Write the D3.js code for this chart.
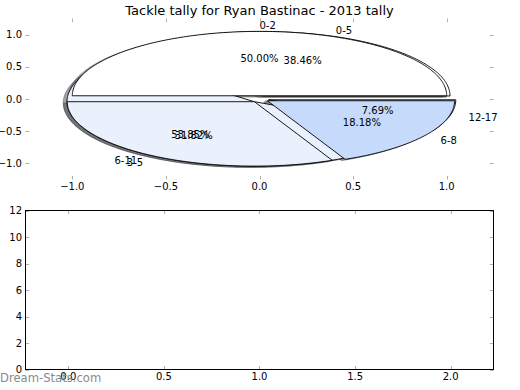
<!DOCTYPE html>
<html>
<head>
<meta charset="utf-8">
<script src="https://cdn.jsdelivr.net/npm/d3@7"></script>
<style>
    body { margin: 0; background: #fff; }
    text { font-family: "DejaVu Sans", sans-serif; }
</style>
</head>
<body>
<svg id="chart" width="520" height="390"></svg>
<script>
// Chart data
const titleText = 'Tackle tally for Ryan Bastinac - 2013 tally';
const outerLabels = ['0-5', '6-11', '12-17'];
const outerValues = [5, 7, 1];
const innerLabels = ['0-2', '3-5', '6-8'];
const innerValues = [11, 7, 4];
const sliceColors = ['#ffffff', '#eaf1fd', '#c6dafc'];
const explodeBy = 0.05;
const pieXTicks = [-1.0, -0.5, 0.0, 0.5, 1.0];
const pieYTicks = [-1.0, -0.5, 0.0, 0.5, 1.0];
const barXTicks = [0.0, 0.5, 1.0, 1.5, 2.0];
const barYTicks = [0, 2, 4, 6, 8, 10, 12];

let svg = d3.select('#chart');
let fmt1 = d3.format('.1f');
let tickColor = '#b0b0b0';
let tickLen = 3.6;

// ---------- top axes (pies) ----------
let x = d3.scaleLinear().domain([-1.25, 1.25]).range([25.5, 493.5]);
let y = d3.scaleLinear().domain([-1.25, 1.25]).range([179.5, 18.5]);

let line = d3.line().x(function(d) { return x(d[0]); }).y(function(d) { return y(d[1]); });

function wedgePath(cx, cy, a0, a1)
{
    let pts = [[cx, cy]];
    let n = Math.max(2, Math.ceil((a1 - a0) / (Math.PI / 180)));
    for (let i = 0; i <= n; ++i) {
        let t = a0 + (a1 - a0) * i / n;
        pts.push([cx + Math.cos(t), cy + Math.sin(t)]);
    }
    return line(pts) + 'Z';
}

function buildSlices(labels, values)
{
    let arcs = d3.pie().sort(null).startAngle(0).endAngle(2 * Math.PI)(values);
    let total = d3.sum(values);
    return arcs.map(function(a, i) {
        let tm = (a.startAngle + a.endAngle) / 2;
        return {
            label: labels[i],
            pct: d3.format('.2f')(values[i] / total * 100) + '%',
            a0: a.startAngle,
            a1: a.endAngle,
            tm: tm,
            cx: explodeBy * Math.cos(tm),
            cy: explodeBy * Math.sin(tm),
            color: sliceColors[i]
        };
    });
}

let pies = [buildSlices(outerLabels, outerValues), buildSlices(innerLabels, innerValues)];

let shadowLayer = svg.append('g');
let wedgeLayer = svg.append('g');
let textLayer = svg.append('g');

pies.forEach(function(slices) {
    // shadows sit under every wedge
    shadowLayer.selectAll(null)
        .data(slices)
        .enter().append('path')
        .attr('d', function(d) { return wedgePath(d.cx - 0.02, d.cy - 0.02, d.a0, d.a1); })
        .attr('fill', function(d) { let c = d3.rgb(d.color); return d3.rgb(c.r * 0.3, c.g * 0.3, c.b * 0.3); })
        .attr('stroke', function(d) { let c = d3.rgb(d.color); return d3.rgb(c.r * 0.3, c.g * 0.3, c.b * 0.3); })
        .attr('fill-opacity', 0.5)
        .attr('stroke-opacity', 0.5)
        .attr('stroke-width', 0.9);

    wedgeLayer.selectAll(null)
        .data(slices)
        .enter().append('path')
        .attr('d', function(d) { return wedgePath(d.cx, d.cy, d.a0, d.a1); })
        .attr('fill', function(d) { return d.color; })
        .attr('stroke', '#000')
        .attr('stroke-width', 0.9)
        .attr('stroke-linejoin', 'miter');

    textLayer.selectAll(null)
        .data(slices)
        .enter().append('text')
        .attr('x', function(d) { return x(d.cx + 1.1 * Math.cos(d.tm)); })
        .attr('y', function(d) { return y(d.cy + 1.1 * Math.sin(d.tm)); })
        .attr('dy', '0.45em')
        .attr('text-anchor', function(d) { return (d.cx + 1.1 * Math.cos(d.tm)) > 0 ? 'start' : 'end'; })
        .attr('font-size', '10px')
        .text(function(d) { return d.label; });

    textLayer.selectAll(null)
        .data(slices)
        .enter().append('text')
        .attr('x', function(d) { return x(d.cx + 0.6 * Math.cos(d.tm)); })
        .attr('y', function(d) { return y(d.cy + 0.6 * Math.sin(d.tm)); })
        .attr('dy', '0.45em')
        .attr('text-anchor', 'middle')
        .attr('font-size', '10px')
        .text(function(d) { return d.pct; });
});

// top axes ticks (no frame)
let topTicks = svg.append('g').attr('stroke', tickColor).attr('stroke-width', 1);
pieXTicks.forEach(function(t) {
    let px = Math.round(x(t)) + 0.5;
    topTicks.append('line').attr('x1', px).attr('x2', px).attr('y1', y.range()[0]).attr('y2', y.range()[0] - tickLen);
    topTicks.append('line').attr('x1', px).attr('x2', px).attr('y1', y.range()[1]).attr('y2', y.range()[1] + tickLen);
});
pieYTicks.forEach(function(t) {
    let py = Math.round(y(t)) + 0.5;
    topTicks.append('line').attr('x1', x.range()[0]).attr('x2', x.range()[0] + tickLen).attr('y1', py).attr('y2', py);
    topTicks.append('line').attr('x1', x.range()[1]).attr('x2', x.range()[1] - tickLen).attr('y1', py).attr('y2', py);
});

svg.append('g').selectAll('text')
    .data(pieXTicks)
    .enter().append('text')
    .attr('x', function(d) { return x(d); })
    .attr('y', 190)
    .attr('text-anchor', 'middle')
    .attr('font-size', '10px')
    .text(function(d) { return fmt1(d); });

svg.append('g').selectAll('text')
    .data(pieYTicks)
    .enter().append('text')
    .attr('x', 22)
    .attr('y', function(d) { return y(d); })
    .attr('dy', '0.35em')
    .attr('text-anchor', 'end')
    .attr('font-size', '10px')
    .text(function(d) { return fmt1(d); });

svg.append('text')
    .attr('x', (x.range()[0] + x.range()[1]) / 2)
    .attr('y', 14.5)
    .attr('text-anchor', 'middle')
    .attr('font-size', '13px')
    .text(titleText);

// ---------- bottom axes (empty) ----------
let bx = d3.scaleLinear().domain([-0.224, 2.224]).range([25.5, 493.5]);
let by = d3.scaleLinear().domain([0, 12]).range([369.5, 210.5]);

let botTicks = svg.append('g').attr('stroke', tickColor).attr('stroke-width', 1);
barXTicks.forEach(function(t) {
    let px = Math.round(bx(t)) + 0.5;
    botTicks.append('line').attr('x1', px).attr('x2', px).attr('y1', by.range()[0]).attr('y2', by.range()[0] - tickLen);
    botTicks.append('line').attr('x1', px).attr('x2', px).attr('y1', by.range()[1]).attr('y2', by.range()[1] + tickLen);
});
barYTicks.forEach(function(t) {
    let py = Math.round(by(t)) + 0.5;
    botTicks.append('line').attr('x1', bx.range()[0]).attr('x2', bx.range()[0] + tickLen).attr('y1', py).attr('y2', py);
    botTicks.append('line').attr('x1', bx.range()[1]).attr('x2', bx.range()[1] - tickLen).attr('y1', py).attr('y2', py);
});

svg.append('rect')
    .attr('x', bx.range()[0])
    .attr('y', by.range()[1])
    .attr('width', bx.range()[1] - bx.range()[0])
    .attr('height', by.range()[0] - by.range()[1])
    .attr('fill', 'none')
    .attr('stroke', '#000')
    .attr('stroke-width', 1);

svg.append('g').selectAll('text')
    .data(barXTicks)
    .enter().append('text')
    .attr('x', function(d) { return bx(d); })
    .attr('y', 380)
    .attr('text-anchor', 'middle')
    .attr('font-size', '10px')
    .text(function(d) { return fmt1(d); });

svg.append('g').selectAll('text')
    .data(barYTicks)
    .enter().append('text')
    .attr('x', 22)
    .attr('y', function(d) { return by(d); })
    .attr('dy', '0.35em')
    .attr('text-anchor', 'end')
    .attr('font-size', '10px')
    .text(function(d) { return d; });

// watermark
svg.append('text')
    .attr('x', 0)
    .attr('y', 382)
    .attr('font-size', '11.6px')
    .attr('fill', '#8a8a8a')
    .text('Dream-Stats.com');
</script>
</body>
</html>
